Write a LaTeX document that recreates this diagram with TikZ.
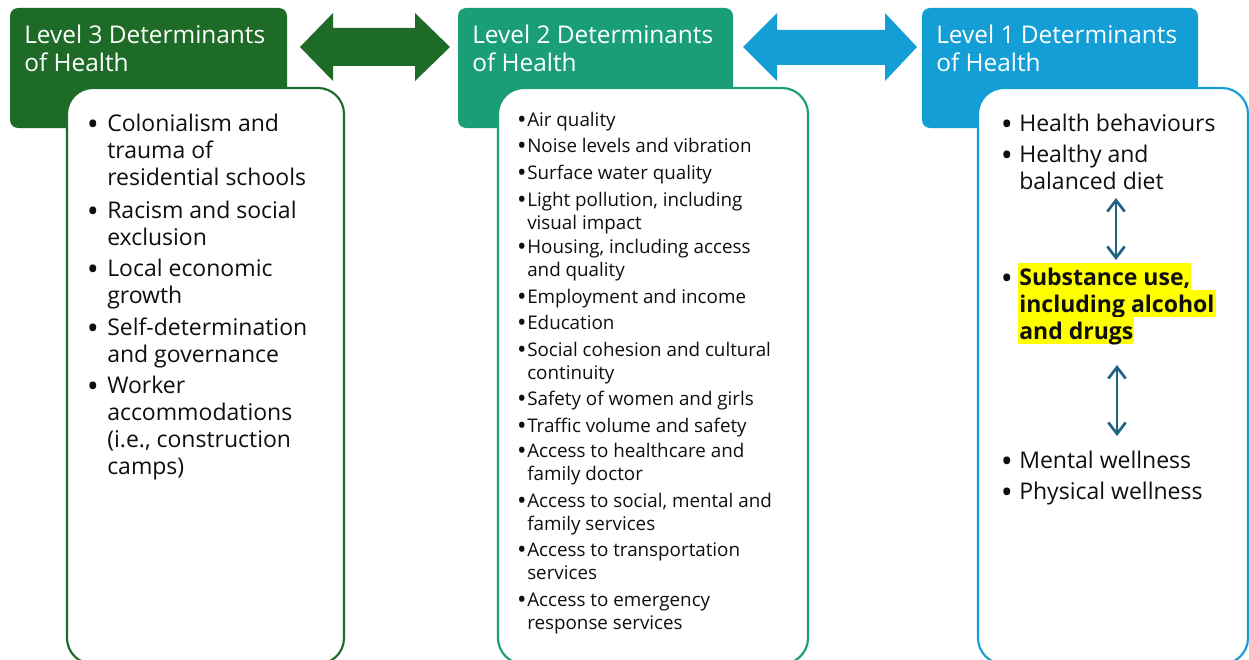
\documentclass[tikz,border=0pt]{standalone}
\usepackage{fontspec}
\setmainfont{Open Sans}
\usetikzlibrary{arrows.meta}
\definecolor{gthree}{RGB}{29,107,38}
\definecolor{gtwo}{RGB}{26,158,120}
\definecolor{gone}{RGB}{19,159,214}
\definecolor{darrow}{RGB}{31,99,130}
\definecolor{ink}{RGB}{15,15,15}
\definecolor{hl}{RGB}{255,255,0}
\newcommand\fstrut{\rule{0pt}{16.5pt}}
\newcommand\bigdot{\raisebox{-3.4pt}{•}}
\newcommand\smalldot{\raisebox{-2.1pt}{•}}
\tikzset{
  hdrbox/.style={rounded corners=6pt},
  listbox/.style={fill=white, line width=1.6pt, rounded corners=19.5pt},
  hdrtext/.style={anchor=north west, inner sep=0pt, align=left, text=white,
    font=\fontsize{18.3pt}{21pt}\selectfont},
  bigitem/.style={anchor=north west, inner sep=0pt, align=left, text=ink,
    font=\fontsize{17.25pt}{20.25pt}\selectfont},
  smallitem/.style={anchor=north west, inner sep=0pt, align=left, text=ink,
    font=\fontsize{14.1pt}{17.25pt}\selectfont},
  bigbullet/.style={anchor=base, inner sep=0pt, text=ink,
    font=\fontsize{24pt}{24pt}\selectfont},
  smallbullet/.style={anchor=base, inner sep=0pt, text=ink,
    font=\fontsize{19pt}{19pt}\selectfont},
  hlline/.style={anchor=base west, fill=hl, inner xsep=0.8pt, inner ysep=0pt,
    text height=16.5pt, text depth=3.9pt, text=ink,
    font=\fontsize{17.25pt}{20.25pt}\selectfont\bfseries},
  blockarrow/.style={draw=none},
  linkarrow/.style={draw=darrow, line width=2pt,
    {Straight Barb[length=8.5pt,width=13pt]}-{Straight Barb[length=8.5pt,width=13pt]}}
}
\begin{document}
\begin{tikzpicture}[x=0.75pt,y=-0.75pt]
\clip (0,0) rectangle (1249,660);
\fill[white] (0,0) rectangle (1249,660);

% headers
\fill[gthree, hdrbox] (10,8) rectangle (287,128);
\fill[gtwo, hdrbox] (458,8) rectangle (733,128);
\fill[gone, hdrbox] (922,8) rectangle (1198,128);

\node[hdrtext] (t3) at (24,21) {\fstrut Level 3 Determinants\\of Health};
\node[hdrtext] (t2) at (472,21) {\fstrut Level 2 Determinants\\of Health};
\node[hdrtext] (t1) at (936,21) {\fstrut Level 1 Determinants\\of Health};

% block arrows
\fill[gthree, blockarrow] (300,47) -- (333,13) -- (333,28) -- (415,28) -- (415,13) -- (450,47)
  -- (415,81) -- (415,66) -- (333,66) -- (333,81) -- cycle;
\fill[gone, blockarrow] (743,47) -- (777,13) -- (777,30) -- (885,30) -- (885,13) -- (917,47)
  -- (885,81) -- (885,65) -- (777,65) -- (777,81) -- cycle;

% list boxes
\draw[listbox, draw=gthree] (67,88) rectangle (344,664);
\draw[listbox, draw=gtwo] (498,88) rectangle (808,664);
\draw[listbox, draw=gone] (978,88) rectangle (1248,664);

% Level 3 items
\node[bigitem] (l3a) at (107,131-22) {\fstrut Colonialism and\\trauma of\\residential schools};
\node[bigbullet] (b3a) at (93,131) {\bigdot};
\node[bigitem] (l3b) at (107,218-22) {\fstrut Racism and social\\exclusion};
\node[bigbullet] (b3b) at (93,218) {\bigdot};
\node[bigitem] (l3c) at (107,276-22) {\fstrut Local economic\\growth};
\node[bigbullet] (b3c) at (93,276) {\bigdot};
\node[bigitem] (l3d) at (107,335-22) {\fstrut Self-determination\\and governance};
\node[bigbullet] (b3d) at (93,335) {\bigdot};
\node[bigitem] (l3e) at (107,393-22) {\fstrut Worker\\accommodations\\(i.e., construction\\camps)};
\node[bigbullet] (b3e) at (93,393) {\bigdot};

% Level 2 items
\node[smallitem] (l2a) at (527,126-22) {\fstrut Air quality};
\node[smallbullet] (b2a) at (522,126) {\smalldot};
\node[smallitem] (l2b) at (527,152-22) {\fstrut Noise levels and vibration};
\node[smallbullet] (b2b) at (522,152) {\smalldot};
\node[smallitem] (l2c) at (527,179-22) {\fstrut Surface water quality};
\node[smallbullet] (b2c) at (522,179) {\smalldot};
\node[smallitem] (l2d) at (527,206-22) {\fstrut Light pollution, including\\visual impact};
\node[smallbullet] (b2d) at (522,206) {\smalldot};
\node[smallitem] (l2e) at (527,253-22) {\fstrut Housing, including access\\and quality};
\node[smallbullet] (b2e) at (522,253) {\smalldot};
\node[smallitem] (l2f) at (527,303-22) {\fstrut Employment and income};
\node[smallbullet] (b2f) at (522,303) {\smalldot};
\node[smallitem] (l2g) at (527,329-22) {\fstrut Education};
\node[smallbullet] (b2g) at (522,329) {\smalldot};
\node[smallitem] (l2h) at (527,356-22) {\fstrut Social cohesion and cultural\\continuity};
\node[smallbullet] (b2h) at (522,356) {\smalldot};
\node[smallitem] (l2i) at (527,405-22) {\fstrut Safety of women and girls};
\node[smallbullet] (b2i) at (522,405) {\smalldot};
\node[smallitem] (l2j) at (527,432-22) {\fstrut Traffic volume and safety};
\node[smallbullet] (b2j) at (522,432) {\smalldot};
\node[smallitem] (l2k) at (527,457-22) {\fstrut Access to healthcare and\\family doctor};
\node[smallbullet] (b2k) at (522,457) {\smalldot};
\node[smallitem] (l2l) at (527,507-22) {\fstrut Access to social, mental and\\family services};
\node[smallbullet] (b2l) at (522,507) {\smalldot};
\node[smallitem] (l2m) at (527,556-22) {\fstrut Access to transportation\\services};
\node[smallbullet] (b2m) at (522,556) {\smalldot};
\node[smallitem] (l2n) at (527,606-22) {\fstrut Access to emergency\\response services};
\node[smallbullet] (b2n) at (522,606) {\smalldot};

% Level 1 items
\node[bigitem] (l1a) at (1019,131-22) {\fstrut Health behaviours};
\node[bigbullet] (b1a) at (1007,131) {\bigdot};
\node[bigitem] (l1b) at (1019,162-22) {\fstrut Healthy and\\balanced diet};
\node[bigbullet] (b1b) at (1007,162) {\bigdot};
\node[hlline] (s1) at (1018,285) {Substance use,};
\node[hlline] (s2) at (1018,312) {including alcohol};
\node[hlline] (s3) at (1018,339) {and drugs};
\node[bigbullet] (b1c) at (1007,285) {\bigdot};
\node[bigitem] (l1d) at (1019,468-22) {\fstrut Mental wellness};
\node[bigbullet] (b1d) at (1007,468) {\bigdot};
\node[bigitem] (l1e) at (1019,499-22) {\fstrut Physical wellness};
\node[bigbullet] (b1e) at (1007,499) {\bigdot};

% link arrows
\coordinate (a1t) at (1116,198);
\coordinate (a1b) at (1116,260);
\coordinate (a2t) at (1117,365);
\coordinate (a2b) at (1117,436);
\draw[linkarrow] (a1t) -- (a1b);
\draw[linkarrow] (a2t) -- (a2b);
\end{tikzpicture}
\end{document}
